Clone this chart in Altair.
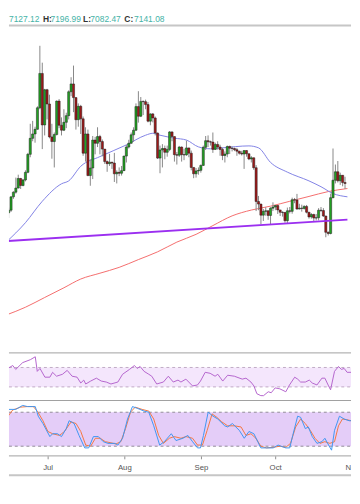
import altair as alt
import pandas as pd

# ---------------- data ----------------
candle_start = "2019-06-13"
opens = [
8140, 8230, 8690, 8850, 8990, 9320, 9080, 9270, 9530, 10150, 10700, 10850, 11010, 11750, 12930, 11160, 12370, 11880,
10750, 10590, 10830, 11980, 11150, 10980, 11250, 11480, 12300, 12570, 12100, 11340, 11800, 11370, 10190, 10850, 9420, 9680, 10640, 10530, 10760, 10590, 10330, 9900, 9830, 9880, 9850, 9480, 9530, 9500, 9590,
10090, 10400, 10530, 10820, 10980, 11790, 11460, 11970, 11960, 11860, 11290, 11540, 11400, 10880, 10020, 10300, 10350, 10220, 10320, 10920, 10760, 10140, 10120, 10400, 10140, 10130, 10370, 10190, 9700, 9480, 9580,
9600, 9770, 10390, 10620, 10580, 10570, 10320, 10490, 10400, 10320, 10110, 10160, 10420, 10360, 10350, 10310, 10260, 10190, 10160, 10280, 10170, 9990, 10030, 9690, 8530, 8440, 8060, 8190, 8210, 8050,
8300, 8340, 8390, 8240, 8160, 8150, 7870, 8210, 8190, 8590, 8580, 8270, 8300, 8290, 8360, 8160, 8000, 8080, 7960, 7970, 8230, 8220, 8030, 7470, 7430, 8660, 9260, 9550, 9240, 9430, 9180]
highs = [
8320, 8700, 8880, 9350, 9450, 9340, 9300, 9600, 10200, 11200, 11300, 11100, 11800, 13880, 13300, 12400, 12400, 12200,
11200, 10900, 12000, 12050, 11420, 11700, 11580, 12350, 12800, 13200, 12100, 11900, 11850, 11450, 11080, 11000, 9980, 10780, 10750, 11080, 10820, 10660, 10330, 9940, 10170, 9890, 10200, 9600, 9700, 9750, 10100,
10480, 10650, 10900, 11080, 11900, 12320, 12120, 12000, 12030, 11950, 11560, 11570, 11450, 10900, 10450, 10500, 10450, 10450, 10950, 10940, 10760, 10230, 10440, 10420, 10340, 10620, 10380, 10280, 9700, 9680, 9700,
9800, 10450, 10780, 10800, 10620, 10900, 10550, 10600, 10480, 10380, 10250, 10450, 10450, 10420, 10380, 10370, 10270, 10270, 10290, 10290, 10180, 10090, 10040, 9780, 8720, 8450, 8270, 8330, 8220, 8330,
8500, 8400, 8400, 8240, 8190, 8170, 8320, 8340, 8660, 8650, 8790, 8450, 8420, 8400, 8410, 8160, 8130, 8110, 8100, 8300, 8340, 8300, 8040, 7500, 8800, 10350, 9800, 9920, 9520, 9440, 9380]
lows = [
7960, 8170, 8620, 8800, 8980, 8960, 9050, 9220, 9500, 10050, 10600, 10550, 11000, 11700, 10330, 10800, 11350, 10700,
10000, 9700, 10800, 11050, 10800, 10950, 11050, 11350, 12150, 11600, 11000, 11100, 10850, 10100, 9900, 9400, 9070, 9300, 10150, 10400, 10150, 10080, 9820, 9550, 9750, 9650, 9200, 9150, 9400, 9420, 9580,
9870, 10350, 10510, 10580, 10950, 11240, 11430, 11500, 11700, 11250, 11150, 11250, 10800, 9990, 9500, 9700, 9980, 10070, 10260, 10600, 9900, 9800, 10060, 9900, 9950, 10100, 10050, 9600, 9330, 9350, 9450,
9520, 9750, 10300, 10400, 10450, 10200, 10300, 10310, 10100, 9950, 9870, 10050, 10160, 10250, 10260, 10100, 10140, 10110, 9650, 10070, 9950, 9870, 9620, 8200, 8230, 7750, 7860, 8040, 7900, 7720,
8200, 8230, 8100, 8030, 8010, 7800, 7780, 8120, 8110, 8470, 8250, 8260, 8180, 8250, 8120, 7940, 7940, 7850, 7880, 7880, 8170, 8000, 7300, 7360, 7400, 8640, 9150, 9180, 9100, 9050, 8960]
closes = [
8230, 8690, 8850, 8990, 9320, 9080, 9270, 9530, 10150, 10700, 10850, 11010, 11750, 12930, 11160, 12370, 11880, 10750,
10590, 10830, 11980, 11150, 10980, 11250, 11480, 12300, 12570, 12100, 11340, 11800, 11370, 10190, 10850, 9420, 9680, 10640, 10530, 10760, 10590, 10330, 9900, 9830, 9880, 9850, 9480, 9530, 9500, 9590, 10090,
10400, 10530, 10820, 10980, 11790, 11460, 11970, 11960, 11860, 11290, 11540, 11400, 10880, 10020, 10300, 10350, 10220, 10320, 10920, 10760, 10140, 10120, 10400, 10140, 10130, 10370, 10190, 9700, 9480, 9580, 9600,
9770, 10390, 10620, 10580, 10570, 10320, 10490, 10400, 10320, 10110, 10160, 10420, 10360, 10350, 10310, 10260, 10190, 10160, 10280, 10170, 9990, 10030, 9690, 8530, 8440, 8060, 8190, 8210, 8050, 8300,
8340, 8390, 8240, 8160, 8150, 7870, 8210, 8190, 8590, 8580, 8270, 8300, 8290, 8360, 8160, 8000, 8080, 7960, 7970, 8230, 8220, 8030, 7470, 7430, 8660, 9260, 9550, 9240, 9430, 9180, 9150]

ma50_dates = ["2019-06-12", "2019-06-20", "2019-06-27", "2019-07-05", "2019-07-08", "2019-07-13", "2019-07-21",
              "2019-08-01", "2019-08-09", "2019-08-12", "2019-08-15", "2019-08-21", "2019-08-26", "2019-08-31",
              "2019-09-05", "2019-09-10", "2019-09-21", "2019-09-25", "2019-09-30", "2019-10-07", "2019-10-16",
              "2019-10-21", "2019-10-26", "2019-11-01"]
ma50_vals = [7133, 7801, 8536, 9137, 9237, 9738, 10072, 10473, 10807, 10874, 10807, 10707, 10640, 10406,
             10340, 10373, 10440, 10373, 9872, 9538, 9237, 9037, 8803, 8690]

ma200_dates = ["2019-06-12", "2019-06-20", "2019-06-28", "2019-07-06", "2019-07-13", "2019-07-21", "2019-07-29",
               "2019-08-06", "2019-08-14", "2019-08-22", "2019-08-30", "2019-09-06", "2019-09-14", "2019-09-22",
               "2019-09-30", "2019-10-08", "2019-10-16", "2019-10-24", "2019-11-01"]
ma200_vals = [4628, 4895, 5229, 5563, 5864, 6064, 6265, 6532, 6799, 7133, 7400, 7701, 8035, 8235, 8369, 8536,
              8703, 8870, 8975]

trend_dates = ["2019-06-12", "2019-11-01"]
trend_vals = [7167, 7905]

# RSI (days from 1 Jul 2019)
rsi_days = [-19.0, -17.0, -14.3, -13.1, -10.3, -7.2, -5.2, -4.4, -3.3, -1.3, 0.7, 1.8, 3.4, 5.8, 7.7, 9.7, 11.7,
            13.2, 14.4, 15.2, 17.2, 19.5, 21.5, 23.5, 25.4, 28.2, 30.1, 32.9, 34.9, 36.0, 37.2, 38.8, 40.7, 41.9,
            43.9, 46.6, 48.6, 50.6, 52.5, 53.7, 55.7, 58.4, 60.4, 61.6, 63.5, 65.5, 67.5, 68.6, 70.6, 72.6, 75.3,
            78.5, 80.0, 82.0, 83.2, 84.4, 86.0, 87.1, 89.0, 90.2, 91.8, 93.7, 96.1, 97.6, 99.7, 100.9, 102.1,
            104.0, 105.6, 106.8, 108.7, 110.7, 111.9, 113.4, 114.2, 115.8, 117.4, 118.6, 119.7, 120.9, 122.5]
rsi_vals = [56, 66, 74, 66, 80, 86, 92, 62, 68, 50, 50, 60, 52, 56, 64, 52, 50, 38, 44, 36, 42, 48, 42, 40, 36,
            40, 56, 66, 74, 68, 72, 62, 56, 52, 36, 40, 52, 40, 44, 40, 46, 32, 34, 42, 60, 58, 52, 56, 42, 54,
            52, 46, 48, 40, 32, 16, 12, 12, 20, 18, 28, 26, 20, 34, 50, 46, 40, 40, 44, 38, 34, 48, 48, 32, 24,
            62, 72, 66, 68, 60, 60]

# Stochastic %K and %D
k_days = [-19.0, -17.8, -15.8, -13.1, -10.3, -8.4, -6.4, -5.2, -4.0, -2.1, 0.7, 1.8, 3.8, 5.4, 7.3, 8.5, 10.5,
          12.5, 14.8, 16.4, 18.3, 20.3, 22.3, 24.2, 27.0, 28.2, 30.1, 32.1, 34.1, 36.0, 38.8, 40.7, 42.7, 45.1,
          47.0, 49.8, 51.7, 54.5, 56.5, 58.4, 60.4, 61.6, 62.8, 64.7, 66.7, 68.6, 71.4, 72.6, 74.5, 77.3, 79.3,
          81.2, 83.2, 86.0, 88.3, 91.0, 93.0, 94.2, 96.1, 97.7, 98.9, 100.9, 102.1, 104.0, 105.2, 106.8, 108.7,
          110.7, 111.9, 113.4, 114.6, 115.8, 117.8, 119.7, 121.7, 122.5]
k_vals = [39, 68, 85, 85, 92, 90, 90, 90, 73, 60, 37, 42, 42, 37, 51, 65, 60, 39, 17, 17, 37, 37, 28, 25, 25, 22,
          34, 68, 90, 87, 82, 80, 56, 22, 28, 42, 30, 34, 39, 28, 17, 17, 39, 80, 73, 68, 56, 54, 60, 48, 34, 46,
          42, 17, 17, 17, 22, 20, 17, 17, 39, 73, 71, 51, 54, 37, 25, 28, 34, 22, 13, 48, 73, 68, 65, 65]
d_days = [-19.0, -16.2, -14.3, -11.1, -8.4, -6.0, -4.4, -2.1, -0.1, 1.8, 4.6, 6.6, 9.3, 11.3, 13.2, 15.2, 17.2,
          19.1, 21.1, 23.1, 25.4, 27.4, 29.4, 31.3, 33.3, 35.2, 38.0, 40.7, 42.7, 44.7, 46.6, 49.0, 51.0, 53.7,
          55.7, 58.4, 60.4, 62.4, 64.3, 66.3, 68.2, 70.2, 72.6, 75.3, 78.0, 80.0, 82.0, 84.0, 86.0, 88.3, 91.0,
          93.7, 96.1, 98.0, 100.1, 102.1, 104.0, 106.0, 107.9, 109.9, 111.9, 113.9, 115.8, 117.4, 119.0, 120.6,
          122.5]
d_vals = [30, 73, 84, 89, 90, 90, 82, 65, 46, 42, 39, 46, 63, 60, 46, 22, 20, 34, 34, 28, 26, 24, 28, 51, 80, 89,
          85, 82, 68, 39, 25, 34, 37, 34, 37, 34, 22, 22, 48, 77, 71, 63, 56, 56, 54, 39, 42, 34, 20, 17, 18, 20,
          18, 25, 54, 68, 60, 48, 34, 25, 28, 25, 28, 56, 68, 67, 65]

month_dates = ["2019-07-01", "2019-08-01", "2019-09-01", "2019-10-01", "2019-11-01"]
month_labels = ["Jul", "Aug", "Sep", "Oct", "Nov"]

header_parts = ["7127.12", "H:", "7196.99", "L:", "7082.47", "C:", "7141.08"]

# ---------------- helpers ----------------
REF = pd.Timestamp("2019-07-01")


def to_day(dates):
    return [(pd.Timestamp(s) - REF).days for s in dates]


W = 352
FONT = "Liberation Sans"
GREEN = "#22a322"
RED = "#a01919"

xs = alt.Scale(domain=[-15.835, 122.475], nice=False, zero=False)
X = alt.X("d:Q", scale=xs, axis=None)
one = pd.DataFrame({"k": [0]})

# ---------------- header ----------------
hdr = alt.Chart(one).properties(width=W, height=9)
hx = [0, 35, 42.7, 76.3, 83.7, 118.7, 128.7]
hlayers = []
for i, s in enumerate(header_parts):
    is_lab = s.endswith(":")
    hlayers.append(
        hdr.mark_text(text=s, align="left", baseline="middle", font=FONT, fontSize=8.7,
                      fontWeight="bold" if is_lab else "normal",
                      color="#333333" if is_lab else "#45b3a7")
        .encode(x=alt.value(hx[i]), y=alt.value(4.5))
    )
header = alt.layer(*hlayers).properties(width=W, height=9)

# ---------------- main price panel ----------------
n = len(closes)
cdates = pd.date_range(candle_start, periods=n, freq="D")
cdf = pd.DataFrame({"d": [(t - REF).days for t in cdates], "o": opens, "h": highs, "l": lows, "c": closes})
ys = alt.Scale(domain=[3359, 14581], nice=False, zero=False)

ma50 = pd.DataFrame({"d": to_day(ma50_dates), "p": ma50_vals})
ma200 = pd.DataFrame({"d": to_day(ma200_dates), "p": ma200_vals})
trend = pd.DataFrame({"d": to_day(trend_dates), "p": trend_vals})

l_ma200 = alt.Chart(ma200).mark_line(color="#f46a6a", strokeWidth=1, clip=True, interpolate="monotone").encode(
    x=X, y=alt.Y("p:Q", scale=ys, axis=None))
l_ma50 = alt.Chart(ma50).mark_line(color="#7f80e4", strokeWidth=1, clip=True, interpolate="monotone").encode(
    x=X, y=alt.Y("p:Q", scale=ys, axis=None))
wicks = alt.Chart(cdf).mark_rule(color="#858585", strokeWidth=1, clip=True).encode(
    x=X, y=alt.Y("l:Q", scale=ys, axis=None), y2="h:Q")
bodies = alt.Chart(cdf).mark_bar(size=2.2, stroke="#1c1c1c", strokeWidth=0.5, clip=True).encode(
    x=X, y=alt.Y("o:Q", scale=ys, axis=None), y2="c:Q",
    color=alt.condition("datum.c >= datum.o", alt.value(GREEN), alt.value(RED)))
l_trend = alt.Chart(trend).mark_line(color="#9b2ff0", strokeWidth=2, clip=True).encode(
    x=X, y=alt.Y("p:Q", scale=ys, axis=None))
top_rule = alt.Chart(one).mark_rule(color="#c6c6c6", strokeWidth=2).encode(
    x=alt.value(0), x2=alt.value(W), y=alt.value(0))
main = alt.layer(l_ma200, l_ma50, wicks, bodies, l_trend, top_rule).properties(width=W, height=336)

# ---------------- RSI panel ----------------
rs = alt.Scale(domain=[4, 100], nice=False, zero=False)
rsi = pd.DataFrame({"d": rsi_days, "v": rsi_vals})
band_r = alt.Chart(pd.DataFrame({"a": [70], "b": [30]})).mark_rect(color="#f4e6fc").encode(
    x=alt.value(0), x2=alt.value(W), y=alt.Y("a:Q", scale=rs, axis=None), y2="b:Q")
lev_r = alt.Chart(pd.DataFrame({"v": [70, 30]})).mark_rule(color="#bfa9c4", strokeDash=[3, 3], strokeWidth=1).encode(
    y=alt.Y("v:Q", scale=rs, axis=None), x=alt.value(0), x2=alt.value(W))
line_r = alt.Chart(rsi).mark_line(color="#b463cc", strokeWidth=1, clip=True).encode(
    x=X, y=alt.Y("v:Q", scale=rs, axis=None))
sep_r = alt.Chart(one).mark_rule(color="#9e9e9e", strokeWidth=1).encode(
    x=alt.value(0), x2=alt.value(W), y=alt.value(0))
rsi_panel = alt.layer(band_r, lev_r, line_r, sep_r).properties(width=W, height=48)

# ---------------- Stochastic panel ----------------
ss = alt.Scale(domain=[4.6, 100.7], nice=False, zero=False)
kdf = pd.DataFrame({"d": k_days, "v": k_vals})
ddf = pd.DataFrame({"d": d_days, "v": d_vals})
band_s = alt.Chart(pd.DataFrame({"a": [80], "b": [20]})).mark_rect(color="#e4cdf8").encode(
    x=alt.value(0), x2=alt.value(W), y=alt.Y("a:Q", scale=ss, axis=None), y2="b:Q")
lev_s = alt.Chart(pd.DataFrame({"v": [80, 20]})).mark_rule(color="#8f8a96", strokeDash=[3, 3], strokeWidth=1).encode(
    y=alt.Y("v:Q", scale=ss, axis=None), x=alt.value(0), x2=alt.value(W))
line_k = alt.Chart(kdf).mark_line(color="#3d95f2", strokeWidth=1, clip=True).encode(
    x=X, y=alt.Y("v:Q", scale=ss, axis=None))
line_d = alt.Chart(ddf).mark_line(color="#f5763e", strokeWidth=1, clip=True).encode(
    x=X, y=alt.Y("v:Q", scale=ss, axis=None))
sep_s = alt.Chart(one).mark_rule(color="#9e9e9e", strokeWidth=1).encode(
    x=alt.value(0), x2=alt.value(W), y=alt.value(0))
stoch_panel = alt.layer(band_s, lev_s, line_d, line_k, sep_s).properties(width=W, height=56)

# ---------------- time axis strip ----------------
mdf = pd.DataFrame({"d": to_day(month_dates), "lab": month_labels})
sep_a = alt.Chart(one).mark_rule(color="#9e9e9e", strokeWidth=1).encode(
    x=alt.value(0), x2=alt.value(W), y=alt.value(0))
ticks = alt.Chart(mdf).mark_rule(color="#8c8c8c", strokeWidth=1, clip=True).encode(
    x=X, y=alt.value(0.5), y2=alt.value(3.5))
labels = alt.Chart(mdf).mark_text(font=FONT, fontSize=8, color="#555555", baseline="middle", clip=True).encode(
    x=X, y=alt.value(12), text="lab:N")
bottom = alt.Chart(one).mark_rule(color="#c6c6c6", strokeWidth=2).encode(
    x=alt.value(0), x2=alt.value(W), y=alt.value(20))
axis_strip = alt.layer(sep_a, ticks, labels, bottom).properties(width=W, height=22)

chart = alt.vconcat(header, main, rsi_panel, stoch_panel, axis_strip, spacing=0).properties(
    padding=0).configure_view(stroke=None)

chart.save("out.html", embed_options={"renderer": "svg", "actions": False})
